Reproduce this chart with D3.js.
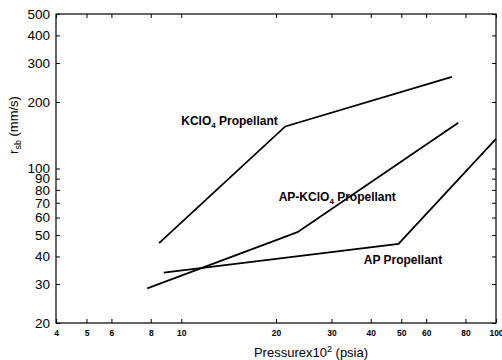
<!DOCTYPE html>
<html>
<head>
<meta charset="utf-8">
<script src="https://cdn.jsdelivr.net/npm/d3@7"></script>
<style>
    body { margin: 0; background: #fff; }
    svg { font-family: Arial, "Liberation Sans", sans-serif; }
    .x-axis text { font-size: 8.5px; font-weight: bold; }
    .y-axis text { font-size: 13.5px; }
    .tag { font-size: 12px; font-weight: bold; }
</style>
</head>
<body>
<div class="chart"></div>
<script>
// tick values
var xTicks = [4, 5, 6, 8, 10, 20, 30, 40, 50, 60, 80, 100];
var yTicks = [20, 30, 40, 50, 60, 70, 80, 90, 100, 200, 300, 400, 500];

// series: pressure (x10^2 psia) and burn rate (mm/s)
var kclo4P = [8.5, 21.4, 72.4];
var kclo4R = [46, 155, 260];
var apKclo4P = [7.8, 23.4, 75.9];
var apKclo4R = [28.7, 51.5, 161];
var apP = [8.8, 49, 100];
var apR = [33.8, 45.6, 136];

var series = [
    {name: "KClO", p: kclo4P, r: kclo4R, tagP: 10, tagR: 157},
    {name: "AP-KClO", p: apKclo4P, r: apKclo4R, tagP: 20.4, tagR: 71},
    {name: "AP", p: apP, r: apR, tagP: 38, tagR: 37}
];

// margins, width, height
var margin = {top: 14, right: 6, bottom: 37, left: 56};
var width = 502 - margin.left - margin.right;
var height = 360 - margin.top - margin.bottom;

var x = d3.scaleLog().domain([4, 100]).range([0, width]);
var y = d3.scaleLog().domain([20, 500]).range([height, 0]);

var svg = d3.select(".chart").append("svg")
    .attr("width", width + margin.left + margin.right)
    .attr("height", height + margin.top + margin.bottom);

var g = svg.append("g")
    .attr("transform", `translate(${margin.left},${margin.top})`);

// axes with inward ticks
g.append("g")
    .attr("class", "x-axis")
    .attr("transform", `translate(0,${height})`)
    .call(d3.axisBottom(x).tickValues(xTicks).tickFormat(d3.format("d"))
        .tickSizeInner(-4).tickSizeOuter(0).tickPadding(7));

g.append("g")
    .attr("class", "y-axis")
    .call(d3.axisLeft(y).tickValues(yTicks).tickFormat(d3.format("d"))
        .tickSizeInner(-4).tickSizeOuter(0).tickPadding(6));

g.append("g")
    .call(d3.axisTop(x).tickValues(xTicks).tickFormat("")
        .tickSizeInner(-4).tickSizeOuter(0));

g.append("g")
    .attr("transform", `translate(${width},0)`)
    .call(d3.axisRight(y).tickValues(yTicks).tickFormat("")
        .tickSizeInner(-4).tickSizeOuter(0));

g.selectAll(".domain").remove();

// frame
g.append("rect")
    .attr("width", width)
    .attr("height", height)
    .attr("fill", "none")
    .attr("stroke", "#000")
    .attr("stroke-width", 1.2);

// lines
var line = d3.line()
    .x(d => x(d[0]))
    .y(d => y(d[1]));

g.selectAll(".series")
    .data(series)
    .enter()
    .append("path")
    .attr("class", "series")
    .attr("fill", "none")
    .attr("stroke", "#000")
    .attr("stroke-width", 1.8)
    .attr("d", d => line(d.p.map((v, i) => [v, d.r[i]])));

// series labels
var tags = g.selectAll(".tag")
    .data(series)
    .enter()
    .append("text")
    .attr("class", "tag")
    .attr("x", d => x(d.tagP))
    .attr("y", d => y(d.tagR));

tags.append("tspan").text(d => d.name);
tags.filter(d => d.name != "AP").append("tspan")
    .attr("font-size", "8px")
    .attr("dy", 3)
    .text("4");
tags.append("tspan")
    .attr("dy", d => d.name != "AP" ? -3 : 0)
    .text(" Propellant");

// axis titles
var xTitle = svg.append("text")
    .attr("x", 311)
    .attr("y", 357)
    .attr("text-anchor", "middle")
    .style("font-size", "13px");
xTitle.append("tspan").text("Pressurex10");
xTitle.append("tspan").attr("font-size", "9px").attr("dy", -5).text("2");
xTitle.append("tspan").attr("dy", 5).text(" (psia)");

var yTitle = svg.append("text")
    .attr("transform", "translate(18,125) rotate(-90)")
    .attr("text-anchor", "middle")
    .style("font-size", "13px");
yTitle.append("tspan").text("r");
yTitle.append("tspan").attr("font-size", "9px").attr("dy", 3).text("sb");
yTitle.append("tspan").attr("dy", -3).text(" (mm/s)");
</script>
</body>
</html>
